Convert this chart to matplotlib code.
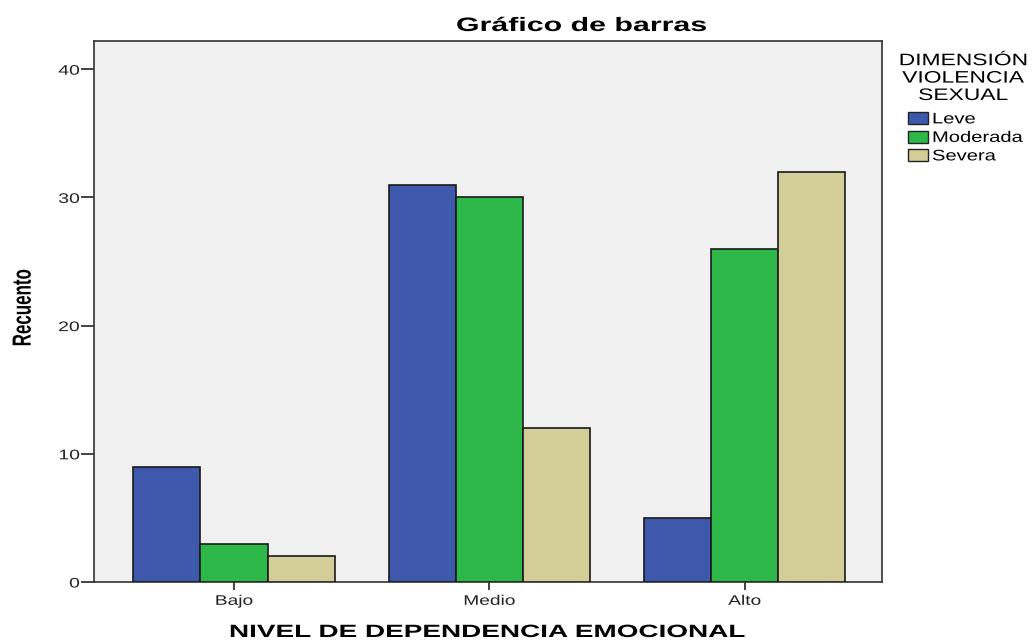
import matplotlib
matplotlib.use("Agg")
import matplotlib.pyplot as plt
import numpy as np
from matplotlib.patches import Patch
from matplotlib.patheffects import AbstractPathEffect
from matplotlib.transforms import Affine2D

plt.rcParams['font.family'] = ['Liberation Sans', 'DejaVu Sans']

categories = ["Bajo", "Medio", "Alto"]
series_names = ["Leve", "Moderada", "Severa"]
leve = [9, 31, 5]
moderada = [3, 30, 26]
severa = [2, 12, 32]
yticks = [0, 10, 20, 30, 40]
colors = ["#3E58AC", "#2FB84A", "#D3CE98"]


class HStretch(AbstractPathEffect):
    """Widen rendered glyphs horizontally (the reference uses wide text)."""
    def __init__(self, sx, anchor='center'):
        super().__init__()
        self.sx = sx
        self.anchor = anchor

    def draw_path(self, renderer, gc, tpath, affine, rgbFace=None):
        v = affine.transform(tpath.vertices)
        if len(v) == 0:
            renderer.draw_path(gc, tpath, affine, rgbFace)
            return
        xmin, xmax = v[:, 0].min(), v[:, 0].max()
        a = {'center': 0.5 * (xmin + xmax), 'left': xmin, 'right': xmax}[self.anchor]
        t = affine + Affine2D().translate(-a, 0).scale(self.sx, 1).translate(a, 0)
        renderer.draw_path(gc, tpath, t, rgbFace)


W, H = 1036, 642
fig = plt.figure(figsize=(W / 100, H / 100), dpi=100)
ax = fig.add_axes([94 / W, 60 / H, (882 - 94) / W, (582 - 41) / H])
ax.set_facecolor("#F0F0F0")

x = np.arange(len(categories))
w = 0.263
for i, (vals, name) in enumerate(zip([leve, moderada, severa], series_names)):
    ax.bar(x + (i - 1) * w, vals, width=w, color=colors[i], edgecolor="#1a1a1a",
           linewidth=1.2, label=name, zorder=3)

ax.set_xlim(-0.548, 2.538)
ax.set_ylim(0, 42.2)
ax.set_yticks(yticks)
ax.set_xticks(x)
ax.set_xticklabels(categories)
ax.tick_params(axis='y', length=9.5, width=1.2, labelsize=10, pad=0.8, colors="#222222")
ax.tick_params(axis='x', length=5.5, width=1.2, labelsize=10, pad=3, colors="#222222")
for t in ax.get_yticklabels():
    t.set_path_effects([HStretch(1.4, 'right')])
for t in ax.get_xticklabels():
    t.set_path_effects([HStretch(1.38, 'center')])
for s in ax.spines.values():
    s.set_linewidth(1.2)
    s.set_color("#333333")

ylab = ax.set_ylabel("Recuento", fontsize=12.2, fontweight='bold', va='center',
                     rotation_mode='anchor')
ax.yaxis.set_label_coords((23 - 94) / 788, (582 - 308) / 541)
ylab.set_path_effects([HStretch(1.55, 'center')])

xlab = ax.set_xlabel("NIVEL DE DEPENDENCIA EMOCIONAL", fontsize=12.8, fontweight='bold',
                     va='baseline')
ax.xaxis.set_label_coords((486 - 94) / 788, (582 - 637) / 541)
xlab.set_path_effects([HStretch(1.57, 'center')])

ttl = fig.suptitle("Gráfico de barras", x=581.5 / W, y=1 - 31 / H, ha='center',
                   va='baseline', fontsize=14, fontweight='bold')
ttl.set_path_effects([HStretch(1.56, 'center')])

lt = fig.text(963 / W, 1 - 100 / H, "DIMENSIÓN\nVIOLENCIA\nSEXUAL", ha='center',
              va='baseline', fontsize=12, linespacing=1.2)
lt.set_path_effects([HStretch(1.37, 'center')])

handles = [Patch(facecolor=c, edgecolor="#222222", linewidth=1, label=n)
           for c, n in zip(colors, series_names)]
leg = fig.legend(handles=handles, loc='upper left', bbox_to_anchor=(908 / W, 1 - 112 / H),
                 frameon=False, fontsize=11, handlelength=1.31, handleheight=0.85,
                 handletextpad=0.26, labelspacing=0.27, borderpad=0, borderaxespad=0)
for t in leg.get_texts():
    t.set_path_effects([HStretch(1.32, 'left')])

fig.savefig("out.png", dpi=100)
